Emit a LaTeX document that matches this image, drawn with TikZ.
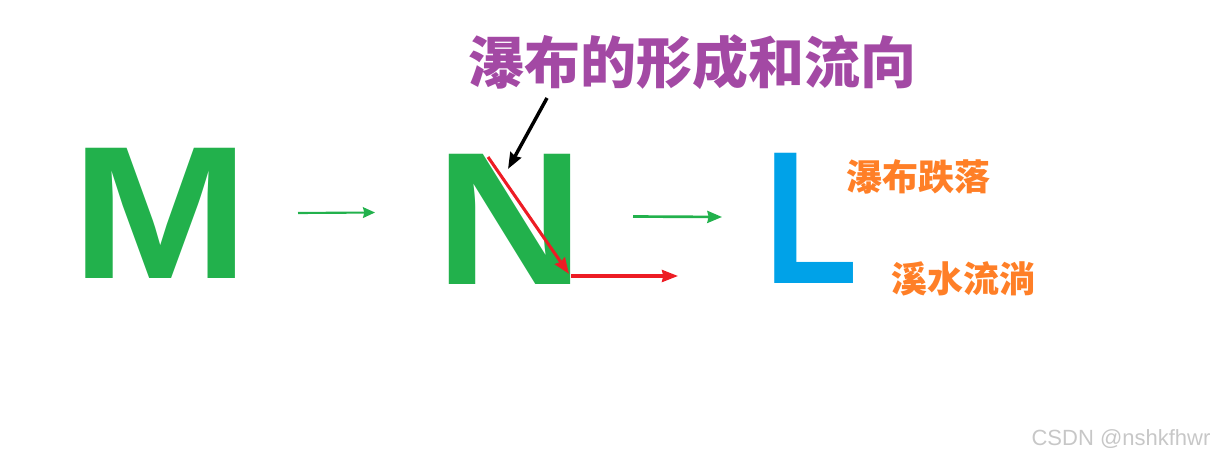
\documentclass[tikz,border=0pt]{standalone}
\usepackage{fontspec}
\setmainfont{Liberation Sans}
\newfontfamily\cjk{Noto Sans CJK SC}
\usetikzlibrary{arrows.meta}
\definecolor{lgreen}{HTML}{22B14C}
\definecolor{lblue}{HTML}{00A2E8}
\definecolor{lpurple}{HTML}{A349A4}
\definecolor{lorange}{HTML}{FF7F27}
\definecolor{lred}{HTML}{ED1C24}
\tikzset{
  bigletter/.style={inner sep=0pt, font=\fontsize{142}{146}\selectfont\bfseries},
  title/.style={inner sep=0pt, text=lpurple, font=\cjk\bfseries\fontsize{42}{46}\selectfont},
  label/.style={inner sep=0pt, text=lorange, font=\cjk\bfseries\fontsize{27}{30}\selectfont},
  flow/.style={line width=1.8pt, -{Stealth[length=10pt,width=8pt,inset=1pt]}},
  watermark/.style={inner sep=0pt, text=black!22, font=\fontsize{16.5}{18}\selectfont},
}
\begin{document}
\begin{tikzpicture}[x=0.75pt,y=-0.75pt]
\useasboundingbox (0,0) rectangle (1214,459);
% letters
\node[bigletter, text=lgreen, xscale=1.13] (M) at (160.5,213) {M};
\node[bigletter, text=lgreen, xscale=1.09] (N) at (510,219) {N};
\node[bigletter, text=lblue, xscale=0.81] (L) at (811,218.5) {L};
% texts
\node[title] (T) at (692,62) {瀑布的形成和流向};
\node[label] (F1) at (918,176.5) {瀑布跌落};
\node[label] (F2) at (963,279) {溪水流淌};
\node[watermark] (W) at (1121,439) {CSDN @nshkfhwr};
% connector endpoints
\coordinate (a1s) at (298,213);
\coordinate (a1e) at (375,212.5);
\coordinate (a2s) at (633,216.5);
\coordinate (a2e) at (722,217);
\coordinate (r1s) at (488,157);
\coordinate (r1e) at (569,274);
\coordinate (r2s) at (571,276);
\coordinate (r2e) at (678,276);
\coordinate (bs) at (547,98);
\coordinate (be) at (508,169);
% arrows
\draw[flow, lgreen, line width=1.6pt, -{Stealth[length=9pt,width=8pt,inset=1pt]}] (a1s) -- (a1e);
\draw[flow, lgreen, line width=2pt, -{Stealth[length=11pt,width=9pt,inset=1pt]}] (a2s) -- (a2e);
\draw[flow, lred, line width=2.3pt, -{Stealth[length=12pt,width=9pt,inset=1pt]}] (r1s) -- (r1e);
\draw[flow, lred, line width=2.3pt, -{Stealth[length=12pt,width=9pt,inset=1pt]}] (r2s) -- (r2e);
\draw[flow, black, line width=2.6pt, -{Stealth[length=12pt,width=9pt,inset=1pt]}] (bs) -- (be);
\end{tikzpicture}
\end{document}
